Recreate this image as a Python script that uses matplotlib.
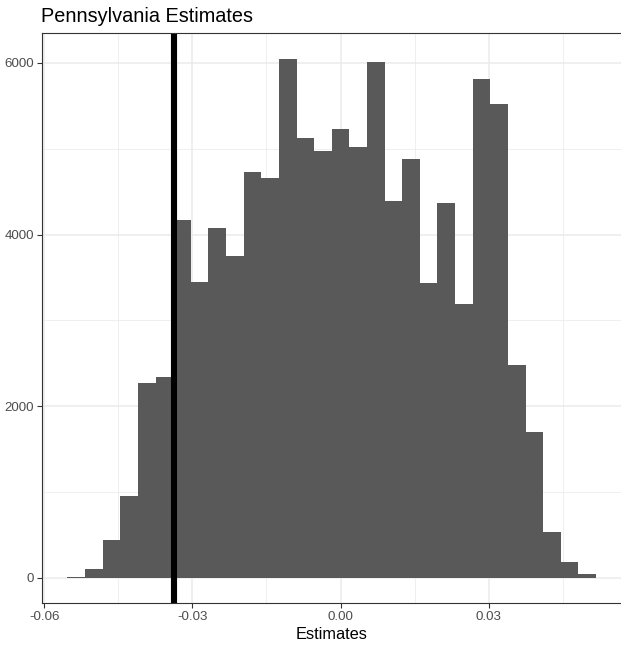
import numpy as np
import matplotlib
matplotlib.use("Agg")
import matplotlib.pyplot as plt

plt.rcParams['font.family'] = ['Liberation Sans', 'DejaVu Sans']

# histogram (30 bins)
bin_start = -0.0553
bin_width = 0.003568
counts = [12, 97, 443, 959, 2272, 2338, 4165, 3445, 4076, 3745,
          4730, 4663, 6048, 5126, 4978, 5227, 5025, 6013, 4392, 4885,
          3432, 4369, 3187, 5812, 5518, 2480, 1696, 539, 180, 40]
vline_x = -0.0337

x_ticks = [-0.06, -0.03, 0.00, 0.03]
x_labels = ['-0.06', '-0.03', '0.00', '0.03']
x_minor = [-0.045, -0.015, 0.015, 0.045]
y_ticks = [0, 2000, 4000, 6000]
y_minor = [1000, 3000, 5000]

edges = bin_start + bin_width * np.arange(len(counts) + 1)

fig = plt.figure(figsize=(6.21, 6.45), dpi=100)
ax = fig.add_axes([0.0671, 0.0647, 0.9345, 0.8837])

ax.set_xlim(-0.06053, 0.0570)
ax.set_ylim(-297, 6346)

ax.set_xticks(x_ticks)
ax.set_xticklabels(x_labels)
ax.set_xticks(x_minor, minor=True)
ax.set_yticks(y_ticks)
ax.set_yticks(y_minor, minor=True)

ax.grid(True, which='major', color='#EBEBEB', linewidth=1.1)
ax.grid(True, which='minor', color='#EBEBEB', linewidth=0.55)
ax.set_axisbelow(True)

ax.bar(edges[:-1], counts, width=bin_width, align='edge', color='#595959',
       linewidth=0)
ax.axvline(vline_x, color='black', linewidth=4.4)

for s in ax.spines.values():
    s.set_color('#333333')
    s.set_linewidth(0.8)

ax.tick_params(which='major', length=3.5, width=0.8, color='#333333',
               labelcolor='#4D4D4D', labelsize=9.6, pad=2)
ax.tick_params(which='minor', length=0)

ax.set_xlabel('Estimates', fontsize=11.8, color='black', labelpad=3)
ax.set_title('Pennsylvania Estimates', fontsize=14.3, loc='left', x=-0.002,
             pad=8.4)

fig.savefig('out.png', dpi=100)
